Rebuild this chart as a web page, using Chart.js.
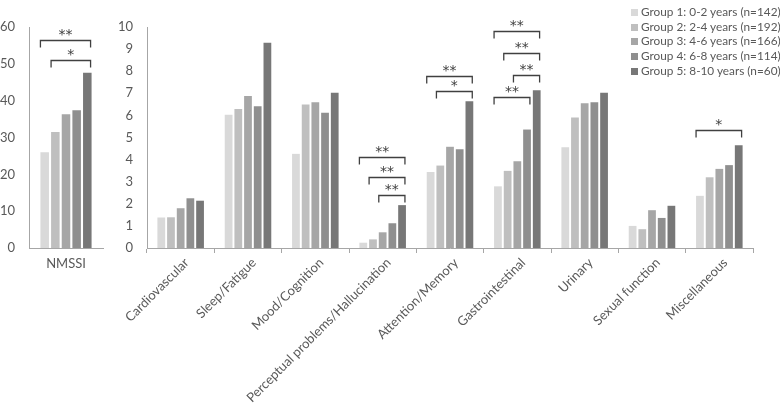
<!DOCTYPE html>
<html>
<head>
<meta charset="utf-8">
<script src="https://cdn.jsdelivr.net/npm/chart.js@4.4.1/dist/chart.umd.min.js"></script>
<style>
  html, body { margin: 0; padding: 0; background: #fff; }
  #wrap { position: relative; width: 780px; height: 413px; overflow: hidden; }
  #c1wrap { position: absolute; left: 0; top: 0; width: 110px; height: 413px; }
  #c2wrap { position: absolute; left: 100px; top: 0; width: 680px; height: 413px; }
  #legend { position: absolute; left: 631px; top: 5px; font-family: Lato, "Noto Sans", sans-serif; font-size: 11.8px; color: #595959; }
  #legend .row { height: 14.7px; line-height: 14.7px; white-space: nowrap; display: flex; align-items: center; }
  #legend .sw { display: inline-block; width: 7px; height: 7px; margin-right: 3px; }
</style>
</head>
<body>
<div id="wrap">
  <div id="c1wrap"><canvas id="c1" width="110" height="413"></canvas></div>
  <div id="c2wrap"><canvas id="c2" width="680" height="413"></canvas></div>
  <div id="legend"></div>
</div>
<script>
// ---- data ----
const groupLabels = [
  "Group 1: 0-2 years (n=142)",
  "Group 2: 2-4 years (n=192)",
  "Group 3: 4-6 years (n=166)",
  "Group 4: 6-8 years (n=114)",
  "Group 5: 8-10 years (n=60)"
];
const groupColors = ["#d9d9d9", "#bfbfbf", "#a6a6a6", "#8f8f8f", "#777777"];

const totalCategories = ["NMSSI"];
const totalG1 = [26.0];
const totalG2 = [31.5];
const totalG3 = [36.3];
const totalG4 = [37.4];
const totalG5 = [47.6];
const totalTicks = [0, 10, 20, 30, 40, 50, 60];

const domainCategories = ["Cardiovascular", "Sleep/Fatigue", "Mood/Cognition",
  "Perceptual problems/Hallucination", "Attention/Memory", "Gastrointestinal",
  "Urinary", "Sexual function", "Miscellaneous"];
const domainG1 = [1.38, 6.03, 4.26, 0.24, 3.44, 2.79, 4.56, 1.00, 2.36];
const domainG2 = [1.39, 6.29, 6.49, 0.39, 3.73, 3.49, 5.90, 0.85, 3.20];
const domainG3 = [1.80, 6.88, 6.59, 0.71, 4.58, 3.93, 6.55, 1.71, 3.58];
const domainG4 = [2.25, 6.41, 6.12, 1.12, 4.47, 5.36, 6.59, 1.36, 3.75];
const domainG5 = [2.14, 9.29, 7.03, 1.94, 6.64, 7.14, 7.03, 1.91, 4.65];
const domainTicks = [0, 1, 2, 3, 4, 5, 6, 7, 8, 9, 10];

// significance brackets: category index, from group, to group, level (data units), label
const totalBrCat   = [0, 0];
const totalBrFrom  = [0, 1];
const totalBrTo    = [4, 4];
const totalBrLevel = [56.5, 51.1];
const totalBrLabel = ["**", "*"];

const domainBrCat   = [3, 3, 3, 4, 4, 5, 5, 5, 5, 8];
const domainBrFrom  = [0, 1, 2, 0, 1, 0, 1, 2, 0, 0];
const domainBrTo    = [4, 4, 4, 4, 4, 4, 4, 4, 3, 4];
const domainBrLevel = [4.14, 3.23, 2.40, 7.80, 7.10, 9.82, 8.84, 7.85, 6.84, 5.35];
const domainBrLabel = ["**", "**", "**", "**", "*", "**", "**", "**", "**", "*"];

// ---- helpers ----
const FONT = "Lato, 'Noto Sans', sans-serif";
const TXT = "#595959";
const AXIS = "#a6a6a6";

function makeDatasets(series) {
  return series.map((d, i) => ({
    label: groupLabels[i],
    data: d,
    backgroundColor: groupColors[i],
    borderWidth: 0,
    categoryPercentage: 0.72,
    barPercentage: 0.8
  }));
}

function bracketPlugin(cats, froms, tos, levels, labels) {
  return {
    id: 'brackets',
    afterDatasetsDraw(chart) {
      const ctx = chart.ctx;
      const y = chart.scales.y;
      ctx.save();
      ctx.strokeStyle = "#404040";
      ctx.lineWidth = 1.3;
      ctx.fillStyle = "#404040";
      ctx.font = "14px 'DejaVu Sans', sans-serif";
      ctx.textAlign = "center";
      ctx.textBaseline = "middle";
      for (let k = 0; k < cats.length; k++) {
        const a = chart.getDatasetMeta(froms[k]).data[cats[k]];
        const b = chart.getDatasetMeta(tos[k]).data[cats[k]];
        const x1 = a.x - a.width / 2;
        const x2 = b.x + b.width / 2 - 1;
        const yp = Math.round(y.getPixelForValue(levels[k])) + 0.5;
        ctx.beginPath();
        ctx.moveTo(x1, yp + 7);
        ctx.lineTo(x1, yp);
        ctx.lineTo(x2, yp);
        ctx.lineTo(x2, yp + 7);
        ctx.stroke();
        ctx.fillText(labels[k], (x1 + x2) / 2, yp - 5);
      }
      ctx.restore();
    }
  };
}

function commonOptions(ticks, max, yWidth, xHeight, padRight, rotated) {
  return {
    responsive: false,
    animation: false,
    layout: { padding: { top: 27, right: padRight, left: 0, bottom: 0 } },
    plugins: { legend: { display: false }, tooltip: { enabled: false } },
    scales: {
      x: {
        grid: { display: rotated, drawOnChartArea: false, drawTicks: rotated, tickLength: 5, color: AXIS },
        border: { display: true, color: AXIS, width: 1 },
        ticks: {
          color: TXT, font: { family: FONT, size: 13 },
          autoSkip: false,
          maxRotation: rotated ? 45 : 0, minRotation: rotated ? 45 : 0,
          padding: rotated ? 2 : 8,
          labelOffset: rotated ? 6 : 0
        },
        afterFit(scale) { scale.height = xHeight; }
      },
      y: {
        min: 0, max: max,
        afterBuildTicks(scale) { scale.ticks = ticks.map(v => ({ value: v })); },
        grid: { display: false, drawTicks: false },
        border: { display: true, color: AXIS, width: 1 },
        ticks: { color: TXT, font: { family: FONT, size: 13 }, padding: 14 },
        afterFit(scale) { scale.width = yWidth; }
      }
    }
  };
}

new Chart(document.getElementById('c1'), {
  type: 'bar',
  data: { labels: totalCategories, datasets: makeDatasets([totalG1, totalG2, totalG3, totalG4, totalG5]) },
  options: commonOptions(totalTicks, 60, 29, 165, 7, false),
  plugins: [bracketPlugin(totalBrCat, totalBrFrom, totalBrTo, totalBrLevel, totalBrLabel)]
});

new Chart(document.getElementById('c2'), {
  type: 'bar',
  data: { labels: domainCategories, datasets: makeDatasets([domainG1, domainG2, domainG3, domainG4, domainG5]) },
  options: commonOptions(domainTicks, 10, 47, 165, 27, true),
  plugins: [bracketPlugin(domainBrCat, domainBrFrom, domainBrTo, domainBrLevel, domainBrLabel)]
});

// legend
const lg = document.getElementById('legend');
groupLabels.forEach((t, i) => {
  const row = document.createElement('div');
  row.className = 'row';
  const sw = document.createElement('span');
  sw.className = 'sw';
  sw.style.background = groupColors[i];
  const tx = document.createElement('span');
  tx.textContent = t;
  row.appendChild(sw); row.appendChild(tx);
  lg.appendChild(row);
});
</script>
</body>
</html>
